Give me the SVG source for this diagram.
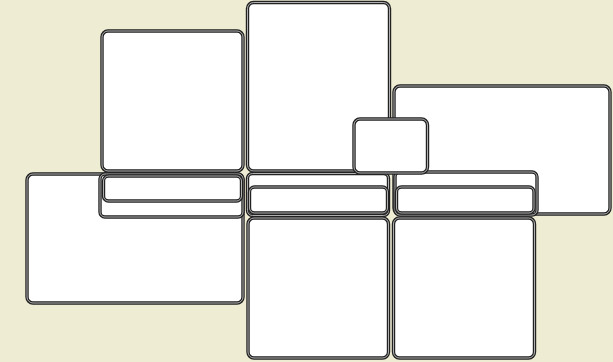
<svg xmlns="http://www.w3.org/2000/svg" width="613" height="362" viewBox="0 0 613 362">
<style>
.o{fill:#ffffff;stroke:#222222;stroke-width:3.4}
.i{fill:none;stroke:#d4d4d4;stroke-width:0.8}
</style>
<defs>
</defs>
<rect x="0" y="0" width="613" height="362" fill="#efecd4"/>
<g id="connectors"></g>
<g id="node-left-base">
<rect class="o" x="27" y="174" width="216" height="129" rx="6"/>
<rect class="i" x="27" y="174" width="216" height="129" rx="6"/>
</g>
<g id="node-col1-header">
<rect class="o" x="100" y="174" width="143" height="43" rx="5"/>
<rect class="i" x="100" y="174" width="143" height="43" rx="5"/>
</g>
<g id="node-col1-bar">
<rect class="o" x="103.5" y="176" width="138" height="25" rx="5"/>
<rect class="i" x="103.5" y="176" width="138" height="25" rx="5"/>
</g>
<g id="node-col1-top">
<rect class="o" x="102" y="31" width="141" height="140" rx="6"/>
<rect class="i" x="102" y="31" width="141" height="140" rx="6"/>
</g>
<g id="node-col2-top">
<rect class="o" x="247.5" y="2.5" width="142" height="168.5" rx="6"/>
<rect class="i" x="247.5" y="2.5" width="142" height="168.5" rx="6"/>
</g>
<g id="node-right">
<rect class="o" x="394" y="86" width="216" height="128" rx="6"/>
<rect class="i" x="394" y="86" width="216" height="128" rx="6"/>
</g>
<g id="node-col2-header">
<rect class="o" x="247.5" y="173.5" width="141" height="42" rx="5"/>
<rect class="i" x="247.5" y="173.5" width="141" height="42" rx="5"/>
</g>
<g id="node-col2-bar">
<rect class="o" x="249.5" y="187" width="138" height="26" rx="5"/>
<rect class="i" x="249.5" y="187" width="138" height="26" rx="5"/>
</g>
<g id="node-col3-header">
<rect class="o" x="395" y="172" width="142" height="43" rx="5"/>
<rect class="i" x="395" y="172" width="142" height="43" rx="5"/>
</g>
<g id="node-col3-bar">
<rect class="o" x="396.5" y="187" width="137.5" height="26" rx="5"/>
<rect class="i" x="396.5" y="187" width="137.5" height="26" rx="5"/>
</g>
<g id="node-col2-bottom">
<rect class="o" x="248" y="218" width="140.5" height="140" rx="6"/>
<rect class="i" x="248" y="218" width="140.5" height="140" rx="6"/>
</g>
<g id="node-col3-bottom">
<rect class="o" x="393.5" y="218" width="141" height="140" rx="6"/>
<rect class="i" x="393.5" y="218" width="141" height="140" rx="6"/>
</g>
<g id="node-small">
<rect class="o" x="354" y="119" width="73.5" height="54" rx="6"/>
<rect class="i" x="354" y="119" width="73.5" height="54" rx="6"/>
</g>
</svg>
